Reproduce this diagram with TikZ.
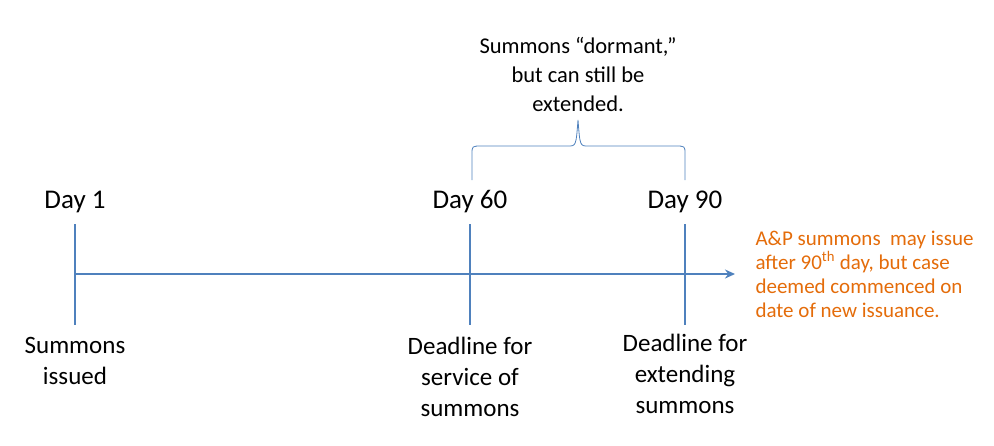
\documentclass[tikz,border=0pt]{standalone}
\usepackage{fontspec}
\setmainfont{Carlito}
\usetikzlibrary{arrows.meta}
\definecolor{lineblue}{RGB}{79,129,189}
\definecolor{orangetxt}{RGB}{228,108,10}
\begin{document}
\begin{tikzpicture}[x=1pt,y=-1pt,
  tick/.style={lineblue,line width=1.5pt},
  day/.style={font=\fontsize{27}{30}\selectfont},
  lab/.style={font=\fontsize{25}{31}\selectfont,align=center},
  note/.style={font=\fontsize{21}{24}\selectfont,align=left,text=orangetxt,anchor=west}]
\useasboundingbox (0,0) rectangle (994,445);
\coordinate (s) at (75,274);
\coordinate (e) at (735,274);
\draw[lineblue,line width=2pt,-{Stealth[length=10pt,width=9pt]}] (s) -- (e);
\foreach \n/\x in {a/75,b/470,c/685}{
  \coordinate (\n1) at (\x,224); \coordinate (\n2) at (\x,325);
  \draw[tick] (\n1) -- (\n2);}
\node[day] (d1) at (75,202) {Day 1};
\node[day] (d60) at (470,202) {Day 60};
\node[day] (d90) at (685,202) {Day 90};
\node[lab,anchor=north] (l1) at (75,334) {Summons\\issued};
\node[lab,anchor=north] (l2) at (470,334) {Deadline for\\service of\\summons};
\node[lab,anchor=north] (l3) at (685,331) {Deadline for\\extending\\summons};
\node[lab,font=\fontsize{22.5}{29}\selectfont] (top) at (578,74) {Summons “dormant,”\\but can still be\\extended.};
\draw[lineblue,line width=0.8pt] (472,180) -- (472,154) .. controls (472,146) .. (482,146) -- (568,146) .. controls (576,146) .. (578,120)
  .. controls (580,146) .. (588,146) -- (675,146) .. controls (685,146) .. (685,154) -- (685,180);
\node[note] (n) at (752,274) {A\&P summons\ \ may issue\\after 90\textsuperscript{th} day, but case\\deemed commenced on\\date of new issuance.};
\end{tikzpicture}
\end{document}
